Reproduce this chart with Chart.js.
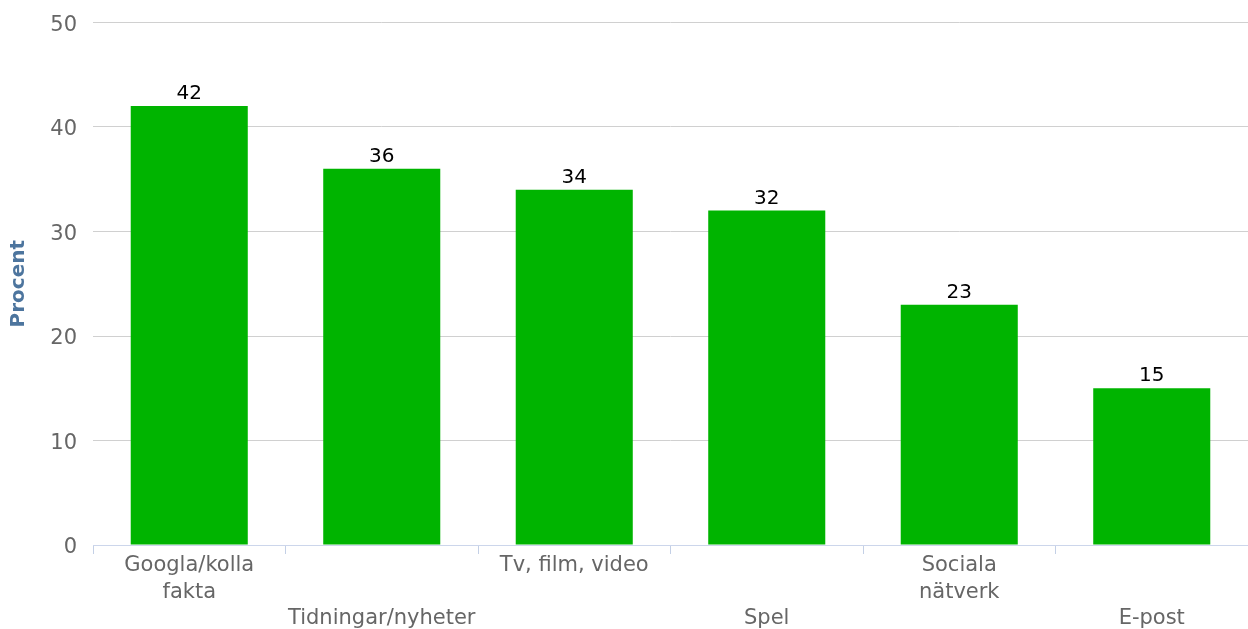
<!DOCTYPE html>
<html>
<head>
<meta charset="utf-8">
<script src="https://cdn.jsdelivr.net/npm/chart.js@4/dist/chart.umd.min.js"></script>
<style>
  html, body { margin: 0; padding: 0; background: #fff; }
  #wrap { width: 1248px; height: 629px; }
</style>
</head>
<body>
<div id="wrap"><canvas id="usageChart" width="1248" height="629"></canvas></div>
<script>
const categories = [
  ["Googla/kolla", "fakta"],
  ["Tidningar/nyheter"],
  ["Tv, film, video"],
  ["Spel"],
  ["Sociala", "nätverk"],
  ["E-post"]
];
const percent = [42, 36, 34, 32, 23, 15];
const yTicks = [0, 10, 20, 30, 40, 50];

const FONT = "'DejaVu Sans', Verdana, sans-serif";

// value labels above each bar
const barValues = {
  id: "barValues",
  afterDatasetsDraw(chart) {
    const ctx = chart.ctx;
    const meta = chart.getDatasetMeta(0);
    ctx.save();
    ctx.font = "20px " + FONT;
    ctx.fillStyle = "#000";
    ctx.textAlign = "center";
    ctx.textBaseline = "alphabetic";
    meta.data.forEach((bar, i) => {
      ctx.fillText(String(percent[i]), bar.x, bar.y - 7);
    });
    ctx.restore();
  }
};

new Chart(document.getElementById("usageChart").getContext("2d"), {
  type: "bar",
  data: {
    labels: categories,
    datasets: [{
      data: percent,
      backgroundColor: "#00b400",
      borderWidth: 0,
      categoryPercentage: 1,
      barPercentage: 0.608
    }]
  },
  options: {
    responsive: false,
    animation: false,
    layout: { padding: { top: 22.5, right: 0, left: 0, bottom: 0 } },
    plugins: {
      legend: { display: false },
      tooltip: { enabled: false }
    },
    scales: {
      x: {
        grid: {
          offset: true,
          drawOnChartArea: false,
          drawTicks: true,
          tickLength: 9,
          color: "#c4d0e6"
        },
        border: { color: "#ccd6eb", width: 1 },
        ticks: {
          autoSkip: false,
          maxRotation: 0,
          minRotation: 0,
          padding: -1,
          color: "#666",
          font: { family: FONT, size: 21, lineHeight: 1.24 },
          // every other category label is pushed down two lines
          callback: (v, i) => i % 2 === 1 ? ["", ""].concat(categories[i]) : categories[i]
        },
        afterFit(scale) {
          scale.height = 84;
          scale.paddingLeft = 0;
          scale.paddingRight = 0;
        }
      },
      y: {
        min: 0,
        max: 50,
        afterBuildTicks(scale) { scale.ticks = yTicks.map(v => ({ value: v })); },
        grid: { color: "#d0d0d0", drawTicks: false },
        border: { display: false },
        ticks: {
          padding: 16,
          labelOffset: 3,
          color: "#666",
          font: { family: FONT, size: 21 }
        },
        title: {
          display: true,
          text: "Procent",
          color: "#4d759e",
          padding: { top: 7, bottom: 0 },
          font: { family: FONT, size: 20, weight: "bold" }
        },
        afterFit(scale) {
          scale.width = 93;
          scale.paddingTop = 0;
          scale.paddingBottom = 0;
        }
      }
    }
  },
  plugins: [barValues]
});
</script>
</body>
</html>
